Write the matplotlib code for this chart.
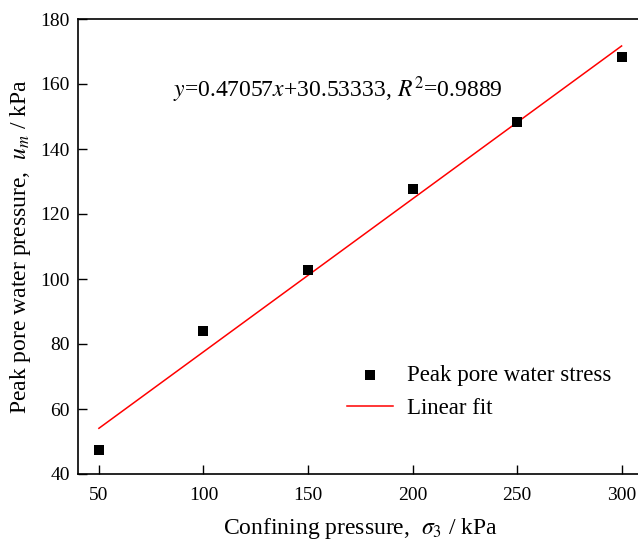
import numpy as np
import matplotlib
matplotlib.use("Agg")
import matplotlib.pyplot as plt

plt.rcParams['font.family'] = ['Liberation Serif', 'DejaVu Serif']
plt.rcParams['mathtext.fontset'] = 'stix'

confining = [50, 100, 150, 200, 250, 300]
peak_pwp = [47.3, 84.0, 102.8, 127.7, 148.3, 168.2]
slope = 0.47057
intercept = 30.53333
x_ticks = [50, 100, 150, 200, 250, 300]
y_ticks = [40, 60, 80, 100, 120, 140, 160, 180]

fig = plt.figure(figsize=(6.38, 5.41), dpi=100)
W, H = 638, 541
left, right, top, bottom = 78, 642.5, 19, 474
ax = fig.add_axes([left / W, 1 - bottom / H, (right - left) / W, (bottom - top) / H])

ax.scatter(confining, peak_pwp, marker='s', s=62, color='black', zorder=3,
           label='Peak pore water stress', linewidths=0)
xf = np.array([confining[0], confining[-1]])
ax.plot(xf, slope * xf + intercept, color='red', lw=1.1, label='Linear fit', zorder=2)

ax.set_xlim(40, 310)
ax.set_ylim(40, 180)
ax.set_xticks(x_ticks)
ax.set_yticks(y_ticks)
ax.tick_params(direction='in', length=6.5, width=1.0, labelsize=14)
ax.tick_params(axis='x', pad=9)
ax.tick_params(axis='y', pad=6)
for s in ax.spines.values():
    s.set_linewidth(1.2)

ax.set_xlabel('Confining pressure,  $\\sigma_3$ / kPa', fontsize=17, labelpad=9)
ax.set_ylabel('Peak pore water pressure,  $u_m$ / kPa', fontsize=17, labelpad=5)

fig.text(173 / W, 1 - 90 / H, '$y$=0.47057$x$+30.53333, $R^2$=0.9889', fontsize=17,
         va='center', ha='left')

leg = ax.legend(loc='upper left',
                bbox_to_anchor=((347 - left) / (right - left), 1 - (365 - top) / (bottom - top)),
                frameon=False, fontsize=16.5, handlelength=2.0, handletextpad=0.6,
                borderpad=0, labelspacing=0.5, borderaxespad=0)

fig.savefig('out.png', dpi=100)
